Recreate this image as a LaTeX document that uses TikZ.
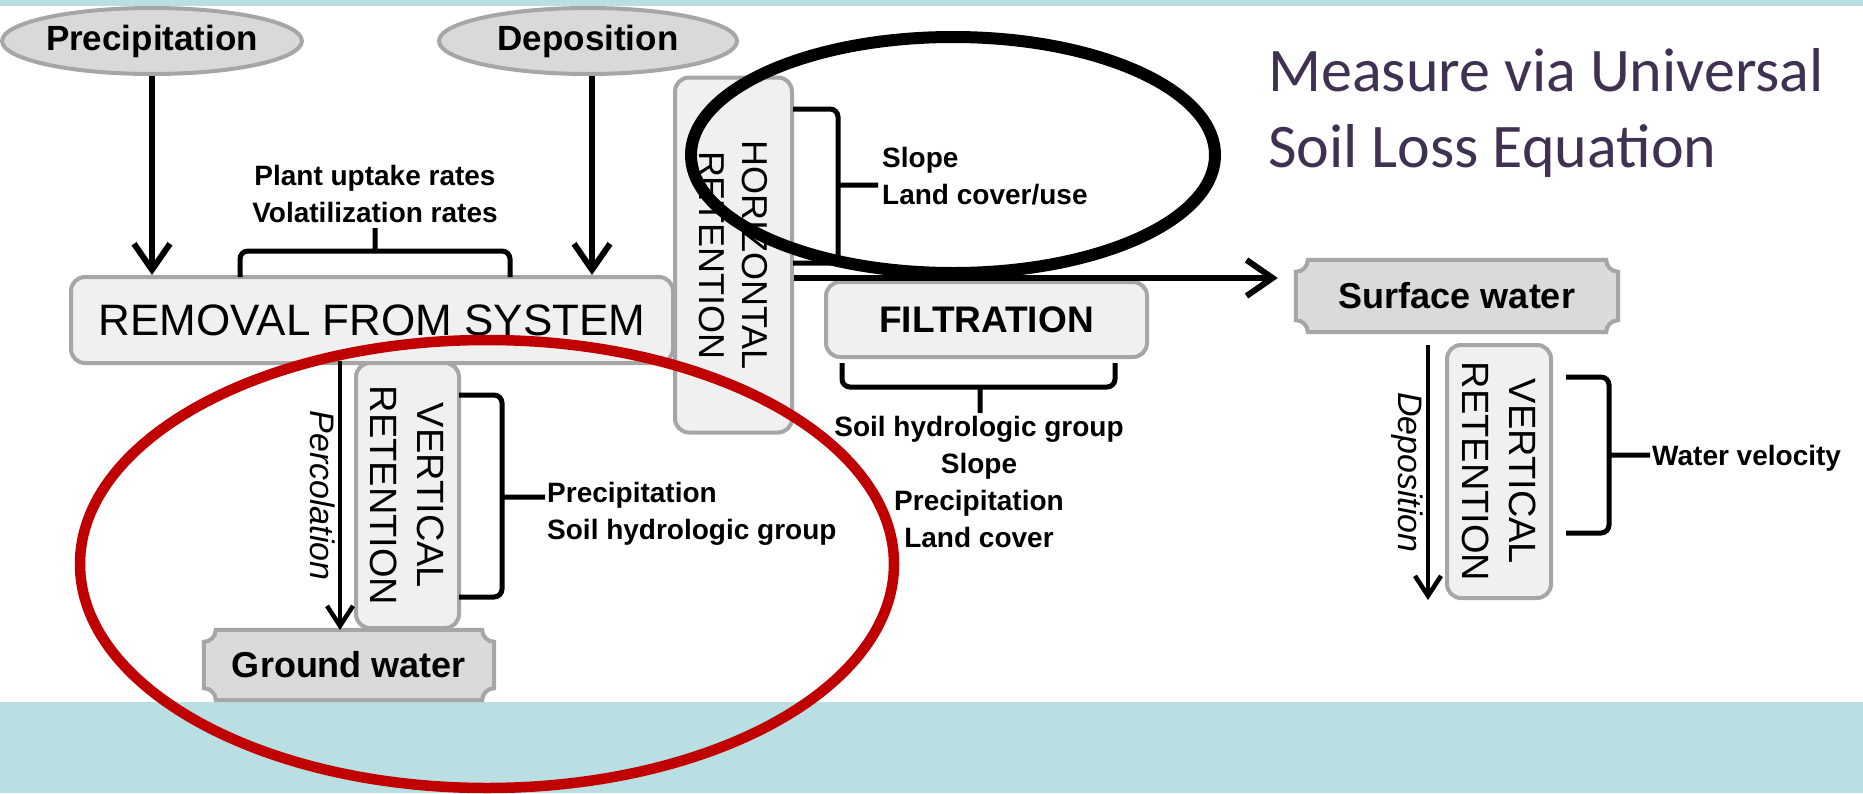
\documentclass[tikz,border=0pt]{standalone}
\usepackage{fontspec}
\setmainfont{Liberation Sans}
\newfontfamily\slidefont{Carlito}
\usetikzlibrary{shapes.geometric, arrows.meta, backgrounds, calc}

\definecolor{bandteal}{RGB}{185,223,226}
\definecolor{boxfill}{RGB}{240,240,240}
\definecolor{boxline}{RGB}{166,166,166}
\definecolor{plaquefill}{RGB}{218,218,218}
\definecolor{ovalfill}{RGB}{217,217,217}
\definecolor{markred}{RGB}{192,0,0}
\definecolor{titlepurple}{RGB}{63,49,81}

\tikzset{
	flowbox/.style={draw=boxline, fill=boxfill, line width=4pt, rounded corners=14pt, inner sep=0pt},
	retbox/.style={flowbox, rotate=-90, align=center},
	source/.style={ellipse, draw=boxline, fill=ovalfill, line width=4pt, inner sep=0pt,
		font=\fontsize{35}{40}\selectfont\bfseries},
	sink/.style={inner sep=0pt, font=\fontsize{36}{40}\selectfont\bfseries},
	factor/.style={inner sep=0pt, font=\fontsize{28}{37}\selectfont\bfseries},
	flowlabel/.style={rotate=-90, anchor=north, inner sep=3pt, font=\fontsize{34}{40}\selectfont\itshape},
	flow/.style={line width=6pt, -{Straight Barb[length=26pt, width=36pt]}},
	seep/.style={line width=4.5pt, -{Straight Barb[length=20pt, width=26pt]}},
	bracket/.style={line width=5pt, rounded corners=8pt}
}

% plaque with hollow corners round a named node
\newcommand{\plaqueframe}[1]{
	\filldraw[draw=boxline, fill=plaquefill, line width=4pt]
		let \p1=(#1.north west), \p2=(#1.south east) in
		(\x1+12pt,\y1) -- (\x2-12pt,\y1) arc[start angle=180, end angle=270, radius=12pt]
		-- (\x2,\y2+12pt) arc[start angle=90, end angle=180, radius=12pt]
		-- (\x1+12pt,\y2) arc[start angle=0, end angle=90, radius=12pt]
		-- (\x1,\y1-12pt) arc[start angle=270, end angle=360, radius=12pt] -- cycle;
}

\begin{document}
\begin{tikzpicture}[x=1pt, y=-1pt]
	\useasboundingbox (0,0) rectangle (1863,793);

	% Slide background and bands
	\begin{scope}[on background layer]
		\fill[white] (0,0) rectangle (1863,793);
		\fill[bandteal] (0,0) rectangle (1863,6);
		\fill[bandteal] (0,702) rectangle (1863,793);
	\end{scope}

	% Inputs
	\node[source, minimum width=298pt, minimum height=66pt] (precip) at (152,41) {Precipitation};
	\node[source, minimum width=298pt, minimum height=66pt] (depos) at (588,41) {Deposition};

	% Main boxes
	\node[flowbox, minimum width=602pt, minimum height=86pt, font=\fontsize{44}{50}\selectfont]
		(removal) at (372,320) {REMOVAL FROM SYSTEM};
	\node[flowbox, minimum width=321pt, minimum height=75pt, font=\fontsize{37}{40}\selectfont\bfseries]
		(filter) at (986.5,319.5) {FILTRATION};
	\node[retbox, minimum width=355pt, minimum height=117pt, font=\fontsize{36}{43.5}\selectfont]
		(horiz) at (733.5,255) {HORIZONTAL\\RETENTION};
	\node[retbox, minimum width=265pt, minimum height=103pt, font=\fontsize{38}{47}\selectfont]
		(vertleft) at (407.5,495.5) {VERTICAL\\RETENTION};
	\node[retbox, minimum width=253pt, minimum height=104pt, font=\fontsize{38}{47}\selectfont]
		(vertright) at (1499,471.5) {VERTICAL\\RETENTION};

	% Water bodies
	\node[sink, minimum width=322pt, minimum height=72pt] (surface) at (1457,296) {Surface water};
	\node[sink, minimum width=290pt, minimum height=70pt] (ground) at (349,665) {Ground water};
	\begin{scope}[on background layer]
		\plaqueframe{surface}
		\plaqueframe{ground}
	\end{scope}

	% Flows
	\coordinate (spill) at (0,278);
	\draw[flow] (precip.south) -- (precip.south |- removal.north);
	\draw[flow] ([xshift=4pt]depos.south) -- ([xshift=4pt]depos.south |- removal.north);
	\draw[flow] (horiz.north |- spill) -- ([xshift=-18pt]surface.west |- spill);
	\draw[seep] ([xshift=-14pt]vertleft.south west) -- ([xshift=-14pt]vertleft.south east)
		node[midway, flowlabel] (perc) {Percolation};
	\draw[seep] ([xshift=-17pt,yshift=-2pt]vertright.south west) -- ([xshift=-17pt]vertright.south east)
		node[midway, flowlabel] (settle) {Deposition};

	% Brackets
	\draw[bracket] (240,277) -- (240,251) -- (510,251) -- (510,277) (375,251) -- (375,228);
	\draw[bracket] (793,109) -- (838,109) -- (838,263) -- (793,263) (838,185) -- (878,185);
	\draw[bracket] (459,395) -- (502,395) -- (502,597) -- (459,597) (502,497) -- (545,497);
	\draw[bracket] (1566,377) -- (1609,377) -- (1609,533) -- (1566,533) (1609,455) -- (1650,455);
	\draw[bracket] (842,363) -- (842,387) -- (1115,387) -- (1115,363) (980,387) -- (980,413);

	% Factors
	\node[factor, align=center, anchor=north] (uptake) at (375,165) {Plant uptake rates\\Volatilization rates};
	\node[factor, align=left, anchor=north west] (landuse) at (882,147) {Slope\\Land cover/use};
	\node[factor, align=left, anchor=north west] (soilgrp) at (547,482) {Precipitation\\Soil hydrologic group};
	\node[factor, align=center, anchor=north] (usle) at (979,416)
		{Soil hydrologic group\\Slope\\Precipitation\\Land cover};
	\node[factor, anchor=west] (velocity) at (1652,458) {Water velocity};

	% Slide note
	\node[anchor=base west, align=left, inner sep=0pt, text=titlepurple,
		font=\slidefont\fontsize{62}{76}\selectfont] (note) at (1268,167) {Measure via Universal\\Soil Loss Equation};

	% Marks
	\draw[black, line width=12pt] (953,155) ellipse [x radius=262, y radius=118];
	\draw[markred, line width=10.5pt] (487,564) ellipse [x radius=407, y radius=224];
\end{tikzpicture}
\end{document}
